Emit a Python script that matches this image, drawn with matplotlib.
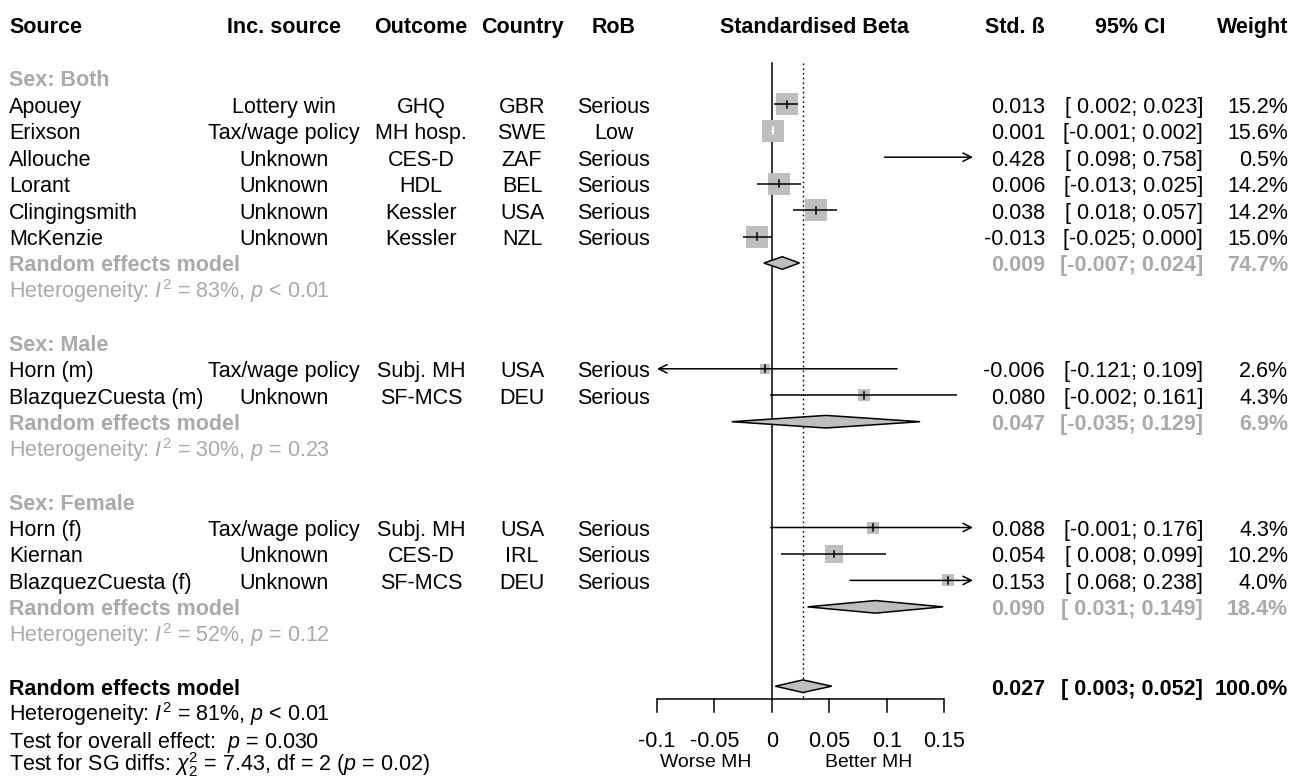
import numpy as np
import matplotlib
matplotlib.use('Agg')
import matplotlib.pyplot as plt
from matplotlib.patches import Polygon
from matplotlib.transforms import blended_transform_factory

plt.rcParams['font.family'] = ['Liberation Sans', 'DejaVu Sans']
plt.rcParams['mathtext.fontset'] = 'custom'
plt.rcParams['mathtext.rm'] = 'Liberation Sans'
plt.rcParams['mathtext.it'] = 'Liberation Sans:italic'
plt.rcParams['mathtext.bf'] = 'Liberation Sans:bold'

# --- data ---
study = ['Apouey', 'Erixson', 'Allouche', 'Lorant', 'Clingingsmith', 'McKenzie',
         'Horn (m)', 'BlazquezCuesta (m)',
         'Horn (f)', 'Kiernan', 'BlazquezCuesta (f)']
inc_source = ['Lottery win', 'Tax/wage policy', 'Unknown', 'Unknown', 'Unknown', 'Unknown',
              'Tax/wage policy', 'Unknown',
              'Tax/wage policy', 'Unknown', 'Unknown']
outcome = ['GHQ', 'MH hosp.', 'CES-D', 'HDL', 'Kessler', 'Kessler',
           'Subj. MH', 'SF-MCS',
           'Subj. MH', 'CES-D', 'SF-MCS']
country = ['GBR', 'SWE', 'ZAF', 'BEL', 'USA', 'NZL',
           'USA', 'DEU',
           'USA', 'IRL', 'DEU']
rob = ['Serious', 'Low', 'Serious', 'Serious', 'Serious', 'Serious',
       'Serious', 'Serious',
       'Serious', 'Serious', 'Serious']
beta = [0.013, 0.001, 0.428, 0.006, 0.038, -0.013,
        -0.006, 0.080,
        0.088, 0.054, 0.153]
ci_low = [0.002, -0.001, 0.098, -0.013, 0.018, -0.025,
          -0.121, -0.002,
          -0.001, 0.008, 0.068]
ci_high = [0.023, 0.002, 0.758, 0.025, 0.057, 0.000,
           0.109, 0.161,
           0.176, 0.099, 0.238]
weight = [15.2, 15.6, 0.5, 14.2, 14.2, 15.0,
          2.6, 4.3,
          4.3, 10.2, 4.0]
group = ['Both'] * 6 + ['Male'] * 2 + ['Female'] * 3

groups = ['Both', 'Male', 'Female']
sub_beta = [0.009, 0.047, 0.090]
sub_low = [-0.007, -0.035, 0.031]
sub_high = [0.024, 0.129, 0.149]
sub_weight = [74.7, 6.9, 18.4]
sub_i2 = [83, 30, 52]
sub_p = ['< 0.01', '= 0.23', '= 0.12']

overall_beta, overall_low, overall_high, overall_weight = 0.027, 0.003, 0.052, 100.0
overall_i2, overall_p = 81, '< 0.01'
overall_test_p = '0.030'
sg_chi2, sg_df, sg_p = 7.43, 2, '0.02'

tick_vals = [-0.1, -0.05, 0, 0.05, 0.1, 0.15]
tick_labels = ['-0.1', '-0.05', '0', '0.05', '0.1', '0.15']
label_left, label_right = 'Worse MH', 'Better MH'

# --- layout ---
W, H = 1298, 776
FS = 15.5
GRAY = '#AAAAAA'
BOX = '#BEBEBE'
BASE = 0.32          # text baseline offset (rows)
PX_ROW = 26.45
Y0 = 77.85
XMIN, XMAX = -0.1, 0.175

fig = plt.figure(figsize=(W / 100, H / 100), dpi=100)
ax = fig.add_axes([657 / W, 0, 316 / W, 1])
ax.set_xlim(XMIN, XMAX)
ax.set_ylim((H - Y0) / PX_ROW, -Y0 / PX_ROW)
ax.axis('off')
px_x = 316 / (XMAX - XMIN)
tr = blended_transform_factory(fig.transFigure, ax.transData)


def put(px, row, s, ha='left', color='black', bold=False, size=FS):
    ax.text(px / W, row + BASE, s, transform=tr, ha=ha, va='baseline', color=color,
            fontsize=size, fontweight='bold' if bold else 'normal', clip_on=False)


def fmt_ci(lo, hi):
    return '[{:6.3f}; {:.3f}]'.format(lo, hi)


def right_cols(row, b, lo, hi, w, color='black', bold=False):
    put(1045, row, '{:.3f}'.format(b), ha='right', color=color, bold=bold)
    put(1203, row, fmt_ci(lo, hi), ha='right', color=color, bold=bold)
    put(1288, row, '{:.1f}%'.format(w), ha='right', color=color, bold=bold)


def diamond(row, b, lo, hi):
    h = 6.3 / PX_ROW
    ax.add_patch(Polygon([(lo, row), (b, row - h), (hi, row), (b, row + h)],
                         closed=True, facecolor=BOX, edgecolor='black', lw=1.1,
                         zorder=4, clip_on=False))


def ci_line(row, lo, hi, color):
    lo_c, hi_c = max(lo, XMIN), min(hi, XMAX)
    arrow = dict(arrowstyle='->,head_length=0.6,head_width=0.3', lw=1.1, color=color,
                 shrinkA=0, shrinkB=0, mutation_scale=10)
    if lo < XMIN and hi > XMAX:
        ax.annotate('', xy=(XMIN, row), xytext=(0.5 * (lo_c + hi_c), row), arrowprops=arrow)
        ax.annotate('', xy=(XMAX, row), xytext=(0.5 * (lo_c + hi_c), row), arrowprops=arrow)
    elif lo < XMIN:
        ax.annotate('', xy=(XMIN, row), xytext=(hi_c, row), arrowprops=arrow)
    elif hi > XMAX:
        ax.annotate('', xy=(XMAX, row), xytext=(lo_c, row), arrowprops=arrow)
    else:
        ax.plot([lo, hi], [row, row], color=color, lw=1.1, zorder=3, solid_capstyle='butt')


# header
put(9, -2, 'Source', bold=True)
put(284, -2, 'Inc. source', ha='center', bold=True)
put(421, -2, 'Outcome', ha='center', bold=True)
put(522, -2, 'Country', ha='center', bold=True)
put(614, -2, 'RoB', ha='center', bold=True)
put(815, -2, 'Standardised Beta', ha='center', bold=True)
put(1045, -2, 'Std. ß', ha='right', bold=True)
put(1130, -2, '95% CI', ha='center', bold=True)
put(1288, -2, 'Weight', ha='right', bold=True)

row = 0
for g, gname in enumerate(groups):
    put(9, row, 'Sex: ' + gname, color=GRAY, bold=True)
    row += 1
    for k in range(len(study)):
        if group[k] != gname:
            continue
        put(9, row, study[k])
        put(284, row, inc_source[k], ha='center')
        put(421, row, outcome[k], ha='center')
        put(522, row, country[k], ha='center')
        put(614, row, rob[k], ha='center')
        right_cols(row, beta[k], ci_low[k], ci_high[k], weight[k])

        side = 5.65 * np.sqrt(weight[k])
        inside = (ci_high[k] - ci_low[k]) * px_x < side
        col = 'white' if inside else 'black'
        if XMIN <= beta[k] <= XMAX:
            ax.scatter([beta[k]], [row], marker='s', s=(side * 0.72) ** 2, color=BOX,
                       linewidths=0, zorder=2, clip_on=False)
            ax.plot([beta[k], beta[k]], [row - 0.13, row + 0.13], color=col, lw=1.1,
                    zorder=3)
        ci_line(row, ci_low[k], ci_high[k], col)
        row += 1
    put(9, row, 'Random effects model', color=GRAY, bold=True)
    right_cols(row, sub_beta[g], sub_low[g], sub_high[g], sub_weight[g], color=GRAY, bold=True)
    diamond(row, sub_beta[g], sub_low[g], sub_high[g])
    row += 1
    put(9, row, 'Heterogeneity: $I^2$ = {}%, $p$ {}'.format(sub_i2[g], sub_p[g]), color=GRAY)
    row += 2

# overall
put(9, row, 'Random effects model', bold=True)
right_cols(row, overall_beta, overall_low, overall_high, overall_weight, bold=True)
diamond(row, overall_beta, overall_low, overall_high)
put(9, row + 1, 'Heterogeneity: $I^2$ = {}%, $p$ {}'.format(overall_i2, overall_p))
put(9, row + 2, 'Test for overall effect:  $p$ = {}'.format(overall_test_p))
put(9, row + 2.9, 'Test for SG diffs: $\\chi^2_{{{}}}$ = {:.2f}, df = {} ($p$ = {})'.format(
    sg_df, sg_chi2, sg_df, sg_p))

# reference lines
y_top = (63 - Y0) / PX_ROW
y_axis = (699 - Y0) / PX_ROW
ax.plot([0, 0], [y_top, y_axis], color='black', lw=1.1, zorder=1)
ax.plot([overall_beta, overall_beta], [y_top, y_axis], color='black', lw=1.0,
        ls=(0, (1.2, 2.2)), zorder=1)

# x axis
tick_len = 13 / PX_ROW
ax.plot([tick_vals[0], tick_vals[-1]], [y_axis, y_axis], color='black', lw=1.1,
        solid_capstyle='butt', clip_on=False)
for v, lab in zip(tick_vals, tick_labels):
    ax.plot([v, v], [y_axis, y_axis + tick_len], color='black', lw=1.1, clip_on=False)
    ax.text(v, (746.7 - Y0) / PX_ROW, lab, ha='center', va='baseline', fontsize=FS,
            clip_on=False)
ax.text(-0.058, (766.7 - Y0) / PX_ROW, label_left, ha='center', va='baseline',
        fontsize=FS * 0.9, clip_on=False)
ax.text(0.0845, (766.7 - Y0) / PX_ROW, label_right, ha='center', va='baseline',
        fontsize=FS * 0.9, clip_on=False)

fig.savefig('out.png', dpi=100)
